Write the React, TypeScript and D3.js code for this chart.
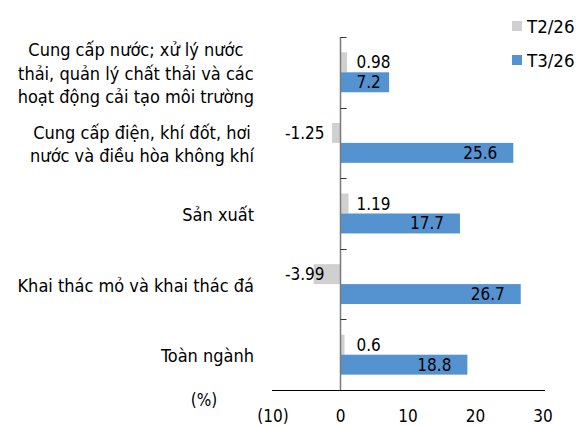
import React, { useEffect, useRef } from "react";
import * as d3 from "d3";

const categories: string[][] = [
  ["Cung cấp nước; xử lý nước", "thải, quản lý chất thải và các", "hoạt động cải tạo môi trường"],
  ["Cung cấp điện, khí đốt, hơi", "nước và điều hòa không khí"],
  ["Sản xuất"],
  ["Khai thác mỏ và khai thác đá"],
  ["Toàn ngành"],
];
const seriesNames = ["T2/26", "T3/26"];
const t2Values = [0.98, -1.25, 1.19, -3.99, 0.6];
const t3Values = [7.2, 25.6, 17.7, 26.7, 18.8];
const xTicks = [-10, 0, 10, 20, 30];
const xTickLabels = ["(10)", "0", "10", "20", "30"];
const unitLabel = "(%)";

const COLORS = ["#d0d0d0", "#5592d0"];
const FONT = "'DejaVu Sans Condensed', 'DejaVu Sans', Verdana, sans-serif";

export default function App() {
  const ref = useRef<SVGSVGElement>(null);
  useEffect(() => {
    const svg = d3.select(ref.current!);
    svg.selectAll("*").remove();
    const keys = categories.map((c) => c.join(" "));
    const x = d3.scaleLinear().domain([-10, 30]).range([273, 543]);
    const y = d3.scaleBand<string>().domain(keys).range([37, 390]);
    const ys = d3
      .scaleBand<string>()
      .domain(seriesNames)
      .range([0, y.bandwidth()])
      .paddingOuter(0.77)
      .paddingInner(0);
    const x0 = x(0);

    const style = (t: any, size: number) =>
      t
        .attr("font-family", FONT)
        .attr("font-stretch", "condensed")
        .attr("font-size", size)
        .attr("fill", "#000");

    // bars
    const seriesVals = [t2Values, t3Values];
    seriesNames.forEach((s, si) => {
      svg
        .append("g")
        .selectAll("rect")
        .data(seriesVals[si])
        .join("rect")
        .attr("x", (d) => Math.min(x(d), x0))
        .attr("width", (d) => Math.abs(x(d) - x0))
        .attr("y", (_, i) => y(keys[i])! + ys(s)!)
        .attr("height", ys.bandwidth())
        .attr("fill", COLORS[si]);
    });

    // x axis line
    svg
      .append("line")
      .attr("x1", 272)
      .attr("x2", 545)
      .attr("y1", 390.5)
      .attr("y2", 390.5)
      .attr("stroke", "#000")
      .attr("stroke-width", 1.2);

    // y axis line
    svg
      .append("line")
      .attr("x1", x0)
      .attr("x2", x0)
      .attr("y1", 37)
      .attr("y2", 390)
      .attr("stroke", "#7a7a7a")
      .attr("stroke-width", 1.5);
    const bounds = keys.map((k) => y(k)!);
    svg
      .append("g")
      .selectAll("line")
      .data(bounds)
      .join("line")
      .attr("x1", x0)
      .attr("x2", x0 + 6)
      .attr("y1", (d) => Math.round(d) + 0.5)
      .attr("y2", (d) => Math.round(d) + 0.5)
      .attr("stroke", "#333")
      .attr("stroke-width", 1);

    // x tick labels
    style(
      svg
        .append("g")
        .selectAll("text")
        .data(xTicks)
        .join("text")
        .attr("x", (d) => x(d))
        .attr("y", 415.5)
        .attr("text-anchor", "middle")
        .attr("dominant-baseline", "central"),
      17
    ).text((_, i) => xTickLabels[i]);

    style(
      svg
        .append("text")
        .attr("x", 204)
        .attr("y", 400)
        .attr("text-anchor", "middle")
        .attr("dominant-baseline", "central"),
      17
    ).text(unitLabel);

    // category labels
    const lineH = 23.5;
    categories.forEach((lines, i) => {
      const cy = y(keys[i])! + y.bandwidth() / 2 + 1;
      const g = svg.append("g");
      const texts = lines.map((ln, j) =>
        style(
          g
            .append("text")
            .attr("y", cy + (j - (lines.length - 1) / 2) * lineH)
            .attr("dominant-baseline", "central")
            .attr("text-anchor", "middle"),
          18
        ).text(ln)
      );
      const maxW = d3.max(texts, (t: any) => (t.node() as SVGTextElement).getComputedTextLength()) || 0;
      const right = 254;
      texts.forEach((t: any) => t.attr("x", right - maxW / 2));
    });

    // value labels T2
    style(
      svg
        .append("g")
        .selectAll("text")
        .data(t2Values)
        .join("text")
        .attr("x", (d) => (d >= 0 ? x0 + 16 : x0 - 16))
        .attr("text-anchor", (d) => (d >= 0 ? "start" : "end"))
        .attr("y", (_, i) => y(keys[i])! + ys(seriesNames[0])! + ys.bandwidth() / 2)
        .attr("dominant-baseline", "central"),
      17
    ).text((d) => String(d));

    // value labels T3
    const g3 = svg.append("g");
    t3Values.forEach((d, i) => {
      const t = style(
        g3
          .append("text")
          .attr("y", y(keys[i])! + ys(seriesNames[1])! + ys.bandwidth() / 2)
          .attr("dominant-baseline", "central"),
        17
      ).text(String(d));
      const w = (t.node() as SVGTextElement).getComputedTextLength();
      let left = x(d) - 16 - w;
      if (left < x0 + 16) left = x0 + 16;
      t.attr("x", left);
    });

    // legend
    const lg = svg.append("g");
    seriesNames.forEach((s, i) => {
      const cy = 26 + i * 34;
      lg.append("rect")
        .attr("x", 512)
        .attr("y", cy - 5)
        .attr("width", 10)
        .attr("height", 10)
        .attr("fill", COLORS[i]);
      style(lg.append("text").attr("x", 527).attr("y", cy).attr("dominant-baseline", "central"), 18.5).text(s);
    });
  }, []);

  return (
    <svg
      ref={ref}
      width={587}
      height={426}
      style={{ position: "absolute", left: 0, top: 0, background: "#fff" }}
    />
  );
}
